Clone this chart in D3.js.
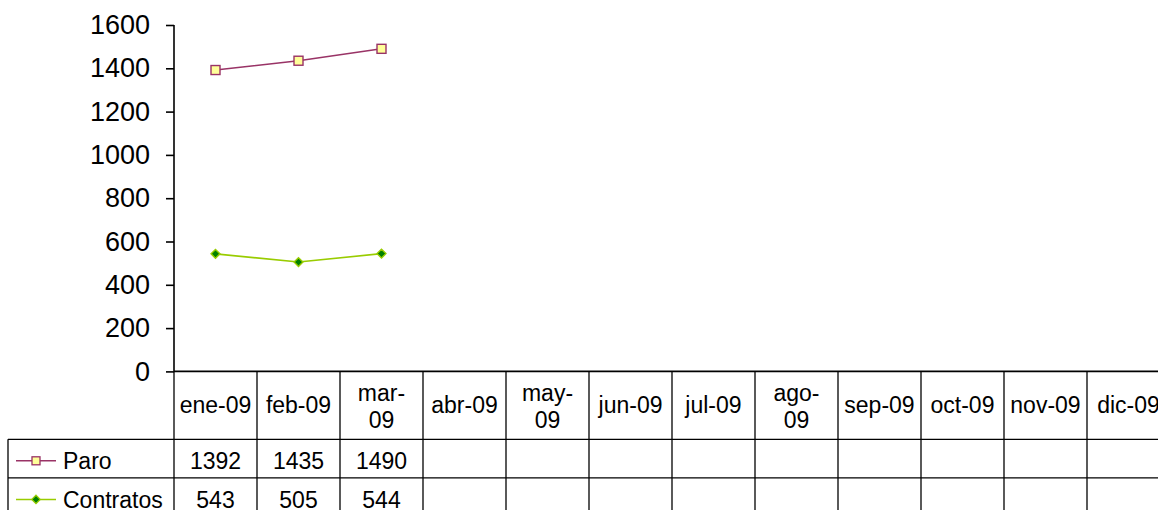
<!DOCTYPE html>
<html>
<head>
<meta charset="utf-8">
<script src="https://cdn.jsdelivr.net/npm/d3@7"></script>
<style>
  html, body { margin: 0; padding: 0; background: #fff; }
  svg { display: block; }
  text { font-family: "Liberation Sans", Arial, sans-serif; fill: #000; }
</style>
</head>
<body>
<svg id="chart" width="1158" height="510"></svg>
<script>
const categories = ["ene-09","feb-09","mar-09","abr-09","may-09","jun-09","jul-09","ago-09","sep-09","oct-09","nov-09","dic-09"];
const wrappedLabels = ["mar-09","may-09","ago-09"];
const paro = [1392, 1435, 1490, null, null, null, null, null, null, null, null, null];
const contratos = [543, 505, 544, null, null, null, null, null, null, null, null, null];
const seriesNames = ["Paro", "Contratos"];
const yTicks = [0, 200, 400, 600, 800, 1000, 1200, 1400, 1600];

const svg = d3.select("#chart");
const plotLeft = 174, plotRight = 1170, plotTop = 25, plotBottom = 371.4;
const x = d3.scaleBand().domain(categories).range([plotLeft, plotRight]);
const y = d3.scaleLinear().domain([0, 1600]).range([plotBottom, plotTop]);

// Y axis
const yAxis = svg.append("g").attr("transform", `translate(${plotLeft},0)`)
  .call(d3.axisLeft(y).tickValues(yTicks).tickSize(8).tickPadding(16).tickFormat(d3.format("d")));
yAxis.select(".domain").attr("stroke", "#000").attr("stroke-width", 1.6).attr("d", `M0,${plotTop}V${plotBottom}`);
yAxis.selectAll(".tick line").attr("stroke", "#000").attr("stroke-width", 1.6);
yAxis.selectAll(".tick text").style("font-size", "27px").style("font-family", "'Liberation Sans', Arial, sans-serif").attr("fill", "#000");

// X axis line
svg.append("line").attr("x1", plotLeft).attr("x2", plotRight).attr("y1", plotBottom).attr("y2", plotBottom)
  .attr("stroke", "#000").attr("stroke-width", 1.6);

// Table
const headerBottom = 439.3, rowH = 38.6;
const tableLeft = 8;
const rowBottoms = [headerBottom + rowH, headerBottom + 2 * rowH];
const tableG = svg.append("g");
const lw = 1.3;
[headerBottom, ...rowBottoms].forEach(yy => {
  tableG.append("line").attr("x1", tableLeft).attr("x2", plotRight).attr("y1", yy).attr("y2", yy)
    .attr("stroke", "#000").attr("stroke-width", lw);
});
tableG.append("line").attr("x1", tableLeft).attr("x2", tableLeft).attr("y1", headerBottom).attr("y2", rowBottoms[1])
  .attr("stroke", "#000").attr("stroke-width", lw);
categories.forEach((c, i) => {
  const xx = x(c);
  tableG.append("line").attr("x1", xx).attr("x2", xx).attr("y1", plotBottom).attr("y2", rowBottoms[1])
    .attr("stroke", "#000").attr("stroke-width", lw);
});

const fs = 23;
// header labels
const headerMid = (plotBottom + headerBottom) / 2;
categories.forEach(c => {
  const cx = x(c) + x.bandwidth() / 2;
  const t = svg.append("text").attr("text-anchor", "middle").style("font-size", fs + "px");
  if (wrappedLabels.includes(c)) {
    const parts = c.split("-");
    t.append("tspan").attr("x", cx).attr("y", headerMid - 4.5).text(parts[0] + "-");
    t.append("tspan").attr("x", cx).attr("y", headerMid + 22.6).text(parts[1]);
  } else {
    t.attr("x", cx).attr("y", headerMid + 7.5).text(c);
  }
});

// data rows
const series = [
  { name: seriesNames[0], values: paro, color: "#993366", marker: "square", fill: "#FFFF99" },
  { name: seriesNames[1], values: contratos, color: "#99CC00", marker: "diamond", fill: "#008000" }
];
const rowTops = [headerBottom, rowBottoms[0]];
series.forEach((s, si) => {
  const top = rowTops[si];
  const base = top + 30;
  categories.forEach((c, i) => {
    if (s.values[i] == null) return;
    svg.append("text").attr("x", x(c) + x.bandwidth() / 2).attr("y", base)
      .attr("text-anchor", "middle").style("font-size", fs + "px").text(s.values[i]);
  });
  // legend key
  const ly = top + 21.5;
  svg.append("line").attr("x1", 16).attr("x2", 56).attr("y1", ly).attr("y2", ly)
    .attr("stroke", s.color).attr("stroke-width", 1.5);
  if (s.marker === "square") {
    svg.append("rect").attr("x", 32).attr("y", ly - 4).attr("width", 8).attr("height", 8)
      .attr("fill", s.fill).attr("stroke", s.color).attr("stroke-width", 1.3);
  } else {
    svg.append("path").attr("d", d3.symbol(d3.symbolDiamond2, 45)()).attr("transform", `translate(36,${ly})`)
      .attr("fill", s.fill).attr("stroke", s.color).attr("stroke-width", 1.3);
  }
  svg.append("text").attr("x", 63).attr("y", base).style("font-size", fs + "px").text(s.name);
});

// Lines and markers
series.forEach(s => {
  const pts = categories.map((c, i) => ({ c, v: s.values[i] })).filter(d => d.v != null);
  const line = d3.line().x(d => x(d.c) + x.bandwidth() / 2).y(d => y(d.v));
  svg.append("path").datum(pts).attr("d", line).attr("fill", "none")
    .attr("stroke", s.color).attr("stroke-width", 1.6);
  pts.forEach(d => {
    const px = x(d.c) + x.bandwidth() / 2, py = y(d.v);
    if (s.marker === "square") {
      svg.append("rect").attr("x", px - 4.5).attr("y", py - 4.5).attr("width", 9).attr("height", 9)
        .attr("fill", s.fill).attr("stroke", s.color).attr("stroke-width", 1.4);
    } else {
      svg.append("path").attr("d", d3.symbol(d3.symbolDiamond2, 50)()).attr("transform", `translate(${px},${py})`)
        .attr("fill", s.fill).attr("stroke", s.color).attr("stroke-width", 1.4);
    }
  });
});
</script>
</body>
</html>
